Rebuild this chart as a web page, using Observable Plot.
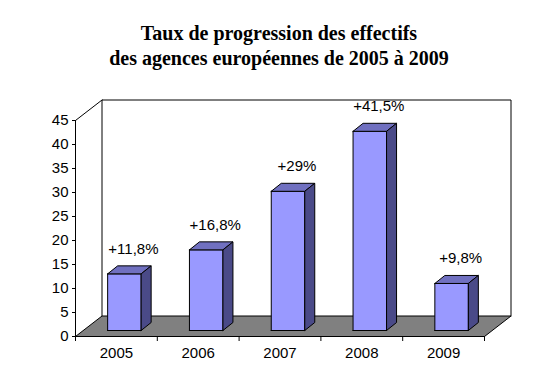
<!DOCTYPE html>
<html>
<head>
<meta charset="utf-8">
<script src="https://cdn.jsdelivr.net/npm/d3@7"></script>
<script src="https://cdn.jsdelivr.net/npm/@observablehq/plot@0.6"></script>
<style>
  html, body { margin: 0; padding: 0; background: white; }
  #title { width: 558px; height: 80px; box-sizing: border-box; padding-top: 21px;
    font-family: "Liberation Serif", serif; font-weight: bold; font-size: 20px; line-height: 25px;
    text-align: center; color: black; }
  #chart svg { display: block; }
</style>
</head>
<body>
<div id="title">Taux de progression des effectifs<br>des agences européennes de 2005 à 2009</div>
<div id="chart"></div>
<script>
// Data
const years = ["2005", "2006", "2007", "2008", "2009"];
const values = [11.8, 16.8, 29, 41.5, 9.8];
const labels = ["+11,8%", "+16,8%", "+29%", "+41,5%", "+9,8%"];
const yTicks = [0, 5, 10, 15, 20, 25, 30, 35, 40, 45];

// Layout (pixels)
const W = 558, H = 309, mL = 75, mR = 74, mT = 40, mB = 53;
const yMax = 45, n = years.length;
const kx = (W - mL - mR) / n, ky = (H - mT - mB) / yMax;
const X = p => p / kx, Y = p => p / ky;
const wallDx = 26.5, wallDy = 20.5;
const barOffX = 8, barOffY = 6, barDx = 10, barDy = 8, barHalf = 16.75;

const WX = X(wallDx), WY = Y(wallDy);
const backWall = [[WX, WY], [WX, yMax + WY], [n + WX, yMax + WY], [n + WX, WY]].map(([x, y]) => ({id: "wall", x, y}));
const sideEdge = [[0, yMax], [WX, yMax + WY]].map(([x, y]) => ({id: "edge", x, y}));
const floor = [[0, 0], [WX, WY], [n + WX, WY], [n, 0], [0, 0]].map(([x, y]) => ({id: "floor", x, y}));
const yAxisLine = [[0, 0], [0, yMax]].map(([x, y]) => ({id: "axis", x, y}));

const fronts = [], tops = [], sides = [];
values.forEach((v, i) => {
  const c = i + 0.5 + X(barOffX);
  const xl = c - X(barHalf), xr = c + X(barHalf);
  const b = Y(barOffY), t = v + Y(barOffY);
  const ddx = X(barDx), ddy = Y(barDy);
  [[xl, b], [xl, t], [xr, t], [xr, b], [xl, b]].forEach(([x, y]) => fronts.push({id: i, x, y}));
  [[xl, t], [xl + ddx, t + ddy], [xr + ddx, t + ddy], [xr, t], [xl, t]].forEach(([x, y]) => tops.push({id: i, x, y}));
  [[xr, b], [xr, t], [xr + ddx, t + ddy], [xr + ddx, b + ddy], [xr, b]].forEach(([x, y]) => sides.push({id: i, x, y}));
});

const poly = (data, fill) => Plot.line(data, {x: "x", y: "y", z: "id", fill, stroke: "black", strokeWidth: 1, strokeLinejoin: "miter", strokeLinecap: "square"});

const chart = Plot.plot({
  width: W, height: H,
  marginLeft: mL, marginRight: mR, marginTop: mT, marginBottom: mB,
  x: {domain: [0, n]},
  y: {domain: [0, yMax]},
  style: {fontFamily: "Liberation Sans, Arial, sans-serif", fontSize: "15px", background: "white", color: "black", overflow: "visible"},
  marks: [
    poly(backWall, "none"),
    poly(sideEdge, "none"),
    poly(floor, "#808080"),
    poly(yAxisLine, "none"),
    Plot.axisY(yTicks, {tickSize: 3, tickPadding: 4, label: null, fontSize: 15}),
    Plot.axisX(d3.range(0, n + 1), {tickSize: 5, tickFormat: () => "", label: null}),
    Plot.axisX(years.map((d, i) => i + 0.5), {tickSize: 0, tickPadding: 11, tickFormat: d => years[Math.floor(d)], label: null, fontSize: 15}),
    poly(fronts, "#9999FF"),
    poly(tops, "#7070C0"),
    poly(sides, "#4A4A88"),
    Plot.text(values.map((v, i) => ({x: i + 0.5, y: v, label: labels[i]})), {x: "x", y: "y", text: "label", dx: 17, dy: -31, fontSize: 15, fill: "black"})
  ]
});
document.getElementById("chart").appendChild(chart);
</script>
</body>
</html>
